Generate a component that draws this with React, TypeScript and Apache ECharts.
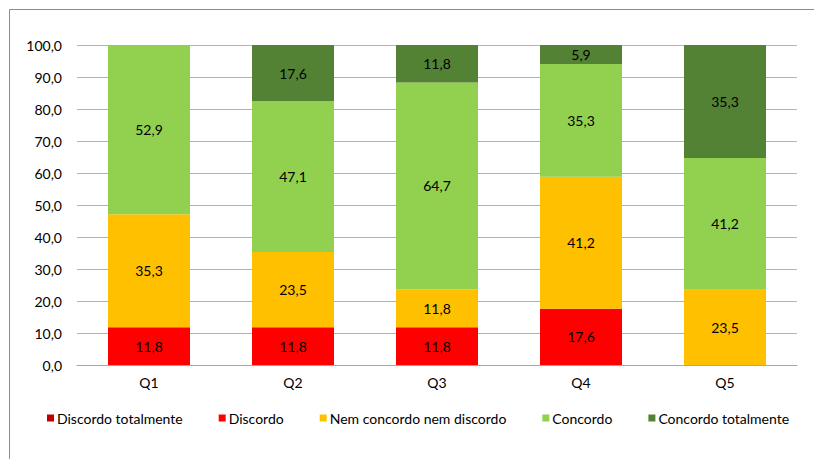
import React, { useEffect, useRef } from "react";
import * as echarts from "echarts";

const categories = ["Q1", "Q2", "Q3", "Q4", "Q5"];
const seriesNames = [
  "Discordo totalmente",
  "Discordo",
  "Nem concordo nem discordo",
  "Concordo",
  "Concordo totalmente",
];
const discordoTotalmente = [0, 0, 0, 0, 0];
const discordo = [11.8, 11.8, 11.8, 17.6, 0];
const nemConcordo = [35.3, 23.5, 11.8, 41.2, 23.5];
const concordo = [52.9, 47.1, 64.7, 35.3, 41.2];
const concordoTotalmente = [0, 17.6, 11.8, 5.9, 35.3];
const colors = ["#C00000", "#FF0000", "#FFC000", "#92D050", "#548235"];

const fmt = (v: number) => v.toFixed(1).replace(".", ",");
const FONT = "Lato, 'Open Sans', sans-serif";

export default function App() {
  const ref = useRef<HTMLDivElement>(null);
  useEffect(() => {
    if (!ref.current) return;
    const chart = echarts.init(ref.current, undefined, { renderer: "svg" });
    const values = [discordoTotalmente, discordo, nemConcordo, concordo, concordoTotalmente];
    chart.setOption({
      animation: false,
      textStyle: { fontFamily: FONT },
      graphic: [
        {
          type: "rect",
          shape: { x: 9.5, y: 9.5, width: 900, height: 600 },
          style: { fill: "none", stroke: "#8c8c8c", lineWidth: 1 },
          silent: true,
        },
      ],
      grid: { left: 77, right: 17, top: 45, bottom: 94 },
      legend: {
        bottom: 29,
        left: 42,
        itemWidth: 7,
        itemHeight: 7,
        itemGap: 36,
        icon: "rect",
        data: seriesNames,
        textStyle: { fontSize: 14, color: "#000", fontFamily: FONT, padding: [0, 0, 0, -2] },
      },
      xAxis: {
        type: "category",
        data: categories,
        axisLine: { lineStyle: { color: "#a6a6a6" } },
        axisTick: { show: false },
        axisLabel: { fontSize: 14, color: "#000", margin: 10, fontFamily: FONT },
      },
      yAxis: {
        type: "value",
        min: 0,
        max: 100,
        interval: 10,
        axisLine: { show: false },
        axisTick: { show: false },
        splitLine: { lineStyle: { color: "#b3b3b3" } },
        axisLabel: {
          fontSize: 14,
          color: "#000",
          margin: 15,
          fontFamily: FONT,
          formatter: (v: number) => fmt(v),
        },
      },
      series: seriesNames.map((name, i) => ({
        name,
        type: "bar",
        stack: "total",
        barWidth: 82,
        data: values[i],
        itemStyle: { color: colors[i] },
        label: {
          show: true,
          position: "inside",
          color: "#000",
          fontSize: 14,
          fontFamily: FONT,
          formatter: (p: any) => (p.value > 0 ? fmt(p.value) : ""),
        },
      })),
    });
    return () => chart.dispose();
  }, []);
  return (
    <div
      ref={ref}
      style={{ position: "fixed", left: 0, top: 0, width: 814, height: 459, background: "#fff" }}
    />
  );
}
